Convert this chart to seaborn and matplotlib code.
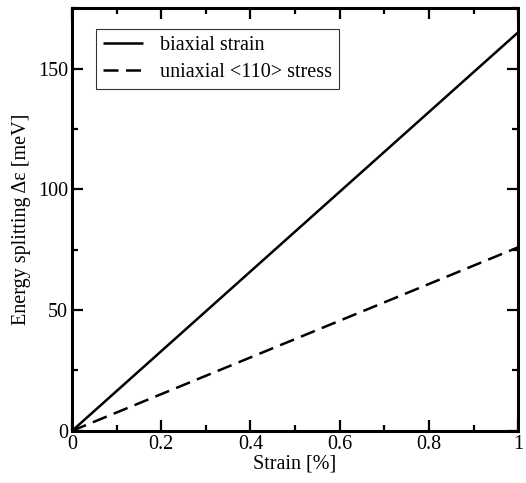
import matplotlib
matplotlib.use("Agg")
import matplotlib.pyplot as plt
from matplotlib.ticker import MultipleLocator
import seaborn as sns
import pandas as pd

# Energy splitting vs. applied strain
strain = [0.0, 1.0]
biaxial = [0.0, 165.0]
uniaxial = [0.0, 76.0]
labels = ["biaxial strain", "uniaxial <110> stress"]

df = pd.concat([
    pd.DataFrame({"strain": strain, "split": biaxial, "kind": labels[0]}),
    pd.DataFrame({"strain": strain, "split": uniaxial, "kind": labels[1]}),
])

FS = 14.5

sns.set_theme(style="ticks")
plt.rcParams["font.family"] = ["Liberation Serif", "DejaVu Serif"]
plt.rcParams["font.size"] = FS
plt.rcParams["text.color"] = "black"
plt.rcParams["axes.labelcolor"] = "black"
plt.rcParams["xtick.color"] = "black"
plt.rcParams["ytick.color"] = "black"

fig = plt.figure(figsize=(5.26, 4.83), dpi=100)
ax = fig.add_axes([0.137, 0.108, 0.848, 0.875])

sns.lineplot(data=df, x="strain", y="split", hue="kind", style="kind",
             palette=["black", "black"], dashes=[(1, 0), (6, 3)],
             linewidth=1.8, ax=ax)

ax.set_xlim(0, 1)
ax.set_ylim(0, 175)
ax.xaxis.set_major_locator(MultipleLocator(0.2))
ax.xaxis.set_minor_locator(MultipleLocator(0.1))
ax.yaxis.set_major_locator(MultipleLocator(50))
ax.yaxis.set_minor_locator(MultipleLocator(25))
ax.set_xticks([0, 0.2, 0.4, 0.6, 0.8, 1.0])
ax.set_xticklabels(["0", "0.2", "0.4", "0.6", "0.8", "1"])

ax.tick_params(which="both", direction="in", top=True, right=True,
               labelsize=FS, colors="black")
ax.tick_params(axis="x", pad=3)
ax.tick_params(axis="y", pad=3)
ax.tick_params(which="major", length=8, width=1.6)
ax.tick_params(which="minor", length=4.5, width=1.6)
for s in ax.spines.values():
    s.set_linewidth(2.2)
    s.set_color("black")

ax.set_xlabel("Strain [%]", fontsize=FS, labelpad=0)
ax.set_ylabel("Energy splitting Δε [meV]", fontsize=FS, labelpad=5)

leg = ax.legend(loc="upper left", bbox_to_anchor=(0.054, 0.950), fontsize=FS,
                frameon=True, fancybox=False, edgecolor="black",
                handlelength=2.0, handletextpad=0.8, borderpad=0.35,
                labelspacing=0.35, borderaxespad=0.0)
leg.get_frame().set_linewidth(0.8)
leg.set_title(None)

fig.savefig("out.png", dpi=100)
